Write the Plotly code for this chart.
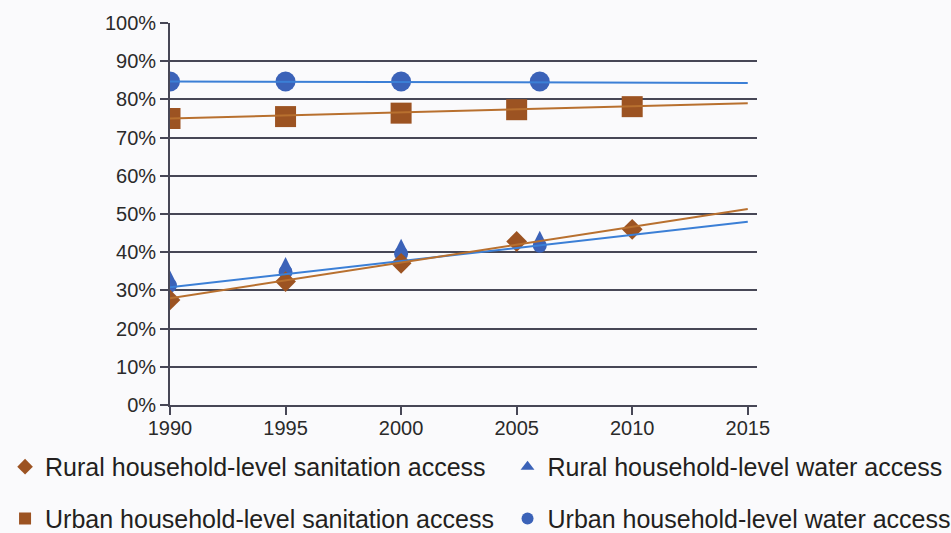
import plotly.graph_objects as go

# ---- data ----
years_rural_san = [1990, 1995, 2000, 2005, 2010]
rural_sanitation = [27.5, 32.3, 37.1, 42.8, 46.0]

years_rural_water = [1990, 1995, 2000, 2006]
rural_water = [31.3, 34.8, 39.6, 41.7]

years_urban_san = [1990, 1995, 2000, 2005, 2010]
urban_sanitation = [75.0, 75.5, 76.4, 77.3, 78.1]

years_urban_water = [1990, 1995, 2000, 2006]
urban_water = [84.7, 84.7, 84.7, 84.7]

trend_years = [1990, 2015]
trend_rural_sanitation = [27.95, 51.3]
trend_rural_water = [30.8, 48.0]
trend_urban_sanitation = [75.0, 79.0]
trend_urban_water = [84.7, 84.3]

x_ticks = [1990, 1995, 2000, 2005, 2010, 2015]
y_ticks = list(range(0, 101, 10))
y_ticklabels = [f"{v}%" for v in y_ticks]

names = [
    "Rural household-level sanitation access",
    "Rural household-level water access",
    "Urban household-level sanitation access",
    "Urban household-level water access",
]

BROWN = "#9c5322"
BROWN_LINE = "#b8702f"
BLUE = "#3b62b8"
BLUE_LINE = "#3b7fd6"
FONT = "Liberation Sans"

fig = go.Figure()

# markers
fig.add_trace(go.Scatter(
    x=years_urban_water, y=urban_water, mode="markers", name=names[3],
    marker=dict(symbol="circle", size=20, color=BLUE), legend="legend4",
))
fig.add_trace(go.Scatter(
    x=years_urban_san, y=urban_sanitation, mode="markers", name=names[2],
    marker=dict(symbol="square", size=21, color=BROWN), legend="legend3",
))
# rural water teardrop: round base + pointed top
fig.add_trace(go.Scatter(
    x=years_rural_water, y=rural_water, mode="markers", name=names[1],
    marker=dict(symbol="circle", size=14, color=BLUE), showlegend=False,
    legendgroup="rw",
))
fig.add_trace(go.Scatter(
    x=years_rural_water, y=rural_water, mode="markers", name=names[1],
    marker=dict(symbol="arrow-down", angle=180, standoff=15, size=12, color=BLUE),
    legendgroup="rw", showlegend=False,
))
fig.add_trace(go.Scatter(
    x=years_rural_san, y=rural_sanitation, mode="markers", name=names[0],
    marker=dict(symbol="diamond", size=16, color=BROWN), legend="legend",
))
# legend-only entry for teardrop
fig.add_trace(go.Scatter(
    x=[None], y=[None], mode="markers", name=names[1],
    marker=dict(symbol="triangle-up", size=12, color=BLUE), legend="legend2",
    legendgroup="rw",
))

# trend lines (drawn on top of markers)
for yv, col in [(trend_urban_water, BLUE_LINE), (trend_urban_sanitation, BROWN_LINE),
                (trend_rural_water, BLUE_LINE), (trend_rural_sanitation, BROWN_LINE)]:
    fig.add_trace(go.Scatter(
        x=trend_years, y=yv, mode="lines", line=dict(color=col, width=2),
        showlegend=False, hoverinfo="skip",
    ))

GRID = "#474756"
fig.update_xaxes(
    range=[1990, 2015.4], tickvals=x_ticks, ticks="outside", ticklen=8,
    tickcolor=GRID, tickwidth=1.6, showgrid=False, showline=True,
    linecolor=GRID, linewidth=1.8, zeroline=False, ticklabelstandoff=-4,
    tickfont=dict(family=FONT, size=20, color="#2a2a2a"),
)
fig.update_yaxes(
    range=[0, 100], tickvals=y_ticks, ticktext=y_ticklabels, ticks="outside",
    ticklen=8, tickcolor=GRID, tickwidth=1.6, showgrid=True, gridcolor=GRID,
    gridwidth=1.6, showline=True, linecolor=GRID, linewidth=1.8, zeroline=False,
    tickfont=dict(family=FONT, size=20, color="#2a2a2a"),
)

def leg(x, y):
    return dict(
        x=x, y=y, orientation="h", xanchor="left", yanchor="middle",
        font=dict(family=FONT, size=25, color="#231f20"),
        bgcolor="rgba(0,0,0,0)", itemsizing="constant",
    )

fig.update_layout(
    width=951, height=533,
    margin=dict(l=170, r=194, t=23, b=128, autoexpand=False),
    paper_bgcolor="#fafafc", plot_bgcolor="#fafafc",
    legend=leg(-0.281, -0.162),
    legend2=leg(0.575, -0.162),
    legend3=leg(-0.281, -0.298),
    legend4=leg(0.575, -0.298),
    showlegend=True,
)

fig.write_html(
    "out.html",
    config={"displayModeBar": False},
    post_script="document.body.style.margin='0';document.body.style.overflow='hidden';",
)
